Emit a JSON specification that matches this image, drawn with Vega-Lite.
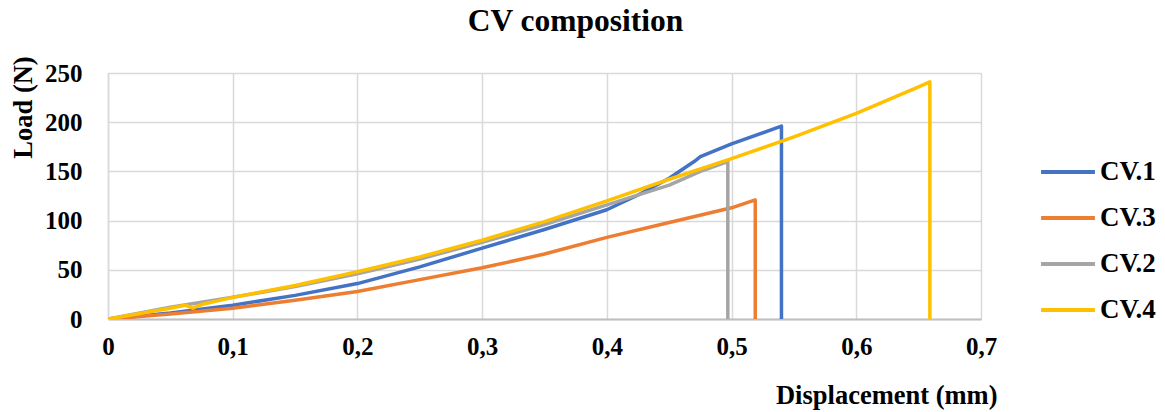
{
  "$schema": "https://vega.github.io/schema/vega-lite/v6.json",
  "width": 873,
  "height": 246,
  "autosize": {"type": "none"},
  "padding": {"left": 108, "top": 73, "right": 184, "bottom": 93},
  "background": "white",
  "title": {
    "text": "CV composition",
    "font": "Liberation Serif",
    "fontSize": 31.5,
    "fontWeight": "bold",
    "color": "#000000",
    "anchor": "middle",
    "dx": 31,
    "offset": 18
  },
  "data": {
    "values": [
      {"s": "CV.1", "i": 0, "x": 0, "y": 0},
      {"s": "CV.1", "i": 1, "x": 0.05, "y": 6},
      {"s": "CV.1", "i": 2, "x": 0.1, "y": 14},
      {"s": "CV.1", "i": 3, "x": 0.15, "y": 24},
      {"s": "CV.1", "i": 4, "x": 0.2, "y": 36},
      {"s": "CV.1", "i": 5, "x": 0.25, "y": 53},
      {"s": "CV.1", "i": 6, "x": 0.3, "y": 72},
      {"s": "CV.1", "i": 7, "x": 0.35, "y": 91},
      {"s": "CV.1", "i": 8, "x": 0.4, "y": 111},
      {"s": "CV.1", "i": 9, "x": 0.425, "y": 126},
      {"s": "CV.1", "i": 10, "x": 0.45, "y": 143},
      {"s": "CV.1", "i": 11, "x": 0.47, "y": 160},
      {"s": "CV.1", "i": 12, "x": 0.475, "y": 165},
      {"s": "CV.1", "i": 13, "x": 0.5, "y": 178},
      {"s": "CV.1", "i": 14, "x": 0.54, "y": 196},
      {"s": "CV.1", "i": 15, "x": 0.54, "y": 0},
      {"s": "CV.3", "i": 0, "x": 0, "y": 0},
      {"s": "CV.3", "i": 1, "x": 0.05, "y": 5},
      {"s": "CV.3", "i": 2, "x": 0.1, "y": 11},
      {"s": "CV.3", "i": 3, "x": 0.15, "y": 19},
      {"s": "CV.3", "i": 4, "x": 0.2, "y": 28},
      {"s": "CV.3", "i": 5, "x": 0.25, "y": 40},
      {"s": "CV.3", "i": 6, "x": 0.3, "y": 52},
      {"s": "CV.3", "i": 7, "x": 0.35, "y": 66},
      {"s": "CV.3", "i": 8, "x": 0.4, "y": 83},
      {"s": "CV.3", "i": 9, "x": 0.45, "y": 98},
      {"s": "CV.3", "i": 10, "x": 0.5, "y": 113},
      {"s": "CV.3", "i": 11, "x": 0.519, "y": 121},
      {"s": "CV.3", "i": 12, "x": 0.519, "y": 0},
      {"s": "CV.2", "i": 0, "x": 0, "y": 0},
      {"s": "CV.2", "i": 1, "x": 0.05, "y": 12},
      {"s": "CV.2", "i": 2, "x": 0.07, "y": 16},
      {"s": "CV.2", "i": 3, "x": 0.1, "y": 22},
      {"s": "CV.2", "i": 4, "x": 0.15, "y": 33},
      {"s": "CV.2", "i": 5, "x": 0.2, "y": 46},
      {"s": "CV.2", "i": 6, "x": 0.25, "y": 61},
      {"s": "CV.2", "i": 7, "x": 0.3, "y": 78},
      {"s": "CV.2", "i": 8, "x": 0.35, "y": 96},
      {"s": "CV.2", "i": 9, "x": 0.4, "y": 116},
      {"s": "CV.2", "i": 10, "x": 0.45, "y": 136},
      {"s": "CV.2", "i": 11, "x": 0.475, "y": 150},
      {"s": "CV.2", "i": 12, "x": 0.497, "y": 160},
      {"s": "CV.2", "i": 13, "x": 0.497, "y": 0},
      {"s": "CV.4", "i": 0, "x": 0, "y": 0},
      {"s": "CV.4", "i": 1, "x": 0.05, "y": 11},
      {"s": "CV.4", "i": 2, "x": 0.062, "y": 14},
      {"s": "CV.4", "i": 3, "x": 0.068, "y": 11},
      {"s": "CV.4", "i": 4, "x": 0.076, "y": 15},
      {"s": "CV.4", "i": 5, "x": 0.1, "y": 22},
      {"s": "CV.4", "i": 6, "x": 0.15, "y": 34},
      {"s": "CV.4", "i": 7, "x": 0.2, "y": 48},
      {"s": "CV.4", "i": 8, "x": 0.25, "y": 63},
      {"s": "CV.4", "i": 9, "x": 0.3, "y": 80},
      {"s": "CV.4", "i": 10, "x": 0.35, "y": 99},
      {"s": "CV.4", "i": 11, "x": 0.4, "y": 120},
      {"s": "CV.4", "i": 12, "x": 0.45, "y": 142},
      {"s": "CV.4", "i": 13, "x": 0.5, "y": 163},
      {"s": "CV.4", "i": 14, "x": 0.55, "y": 185},
      {"s": "CV.4", "i": 15, "x": 0.6, "y": 209},
      {"s": "CV.4", "i": 16, "x": 0.65, "y": 236},
      {"s": "CV.4", "i": 17, "x": 0.659, "y": 241},
      {"s": "CV.4", "i": 18, "x": 0.659, "y": 0}
    ]
  },
  "mark": {"type": "line", "strokeWidth": 3.5, "strokeJoin": "round", "clip": true},
  "encoding": {
    "x": {
      "field": "x",
      "type": "quantitative",
      "scale": {"domain": [0, 0.7], "nice": false},
      "axis": {
        "values": [0, 0.1, 0.2, 0.3, 0.4, 0.5, 0.6, 0.7],
        "labelExpr": "datum.value == 0 ? '0' : replace(format(datum.value, '.1f'), '.', ',')",
        "labelFont": "Liberation Serif",
        "labelFontSize": 25,
        "labelFontWeight": "bold",
        "labelColor": "#000000",
        "labelPadding": 15,
        "labelBaseline": "top",
        "labelFlush": false,
        "labelOverlap": false,
        "ticks": false,
        "domainColor": "#BFBFBF",
        "domainWidth": 2,
        "gridColor": "#D9D9D9",
        "gridWidth": 1.5,
        "title": "Displacement (mm)",
        "titleFont": "Liberation Serif",
        "titleFontSize": 26.5,
        "titleFontWeight": "bold",
        "titleColor": "#000000",
        "titleX": 889,
        "titleY": 76,
        "titleAlign": "right",
        "titleBaseline": "middle"
      }
    },
    "y": {
      "field": "y",
      "type": "quantitative",
      "scale": {"domain": [0, 250], "nice": false},
      "axis": {
        "values": [0, 50, 100, 150, 200, 250],
        "labelFont": "Liberation Serif",
        "labelFontSize": 25,
        "labelFontWeight": "bold",
        "labelColor": "#000000",
        "labelPadding": 26,
        "labelFlush": false,
        "labelOverlap": false,
        "ticks": false,
        "domainColor": "#D9D9D9",
        "domainWidth": 1.5,
        "gridColor": "#D9D9D9",
        "gridWidth": 1.5,
        "title": "Load (N)",
        "titleFont": "Liberation Serif",
        "titleFontSize": 26.5,
        "titleFontWeight": "bold",
        "titleColor": "#000000",
        "titleAngle": -90,
        "titleX": -85,
        "titleY": 34,
        "titleAlign": "center",
        "titleBaseline": "middle"
      }
    },
    "color": {
      "field": "s",
      "type": "nominal",
      "scale": {"domain": ["CV.1", "CV.3", "CV.2", "CV.4"], "range": ["#4472C4", "#ED7D31", "#A5A5A5", "#FFC000"]},
      "legend": {
        "title": null,
        "orient": "none",
        "legendX": 931,
        "legendY": 70,
        "symbolType": "stroke",
        "symbolSize": 2900,
        "symbolStrokeWidth": 4,
        "labelFont": "Liberation Serif",
        "labelFontSize": 27,
        "labelFontWeight": "bold",
        "labelColor": "#000000",
        "labelOffset": 3,
        "rowPadding": 4
      }
    },
    "order": {"field": "i", "type": "quantitative"}
  }
}
